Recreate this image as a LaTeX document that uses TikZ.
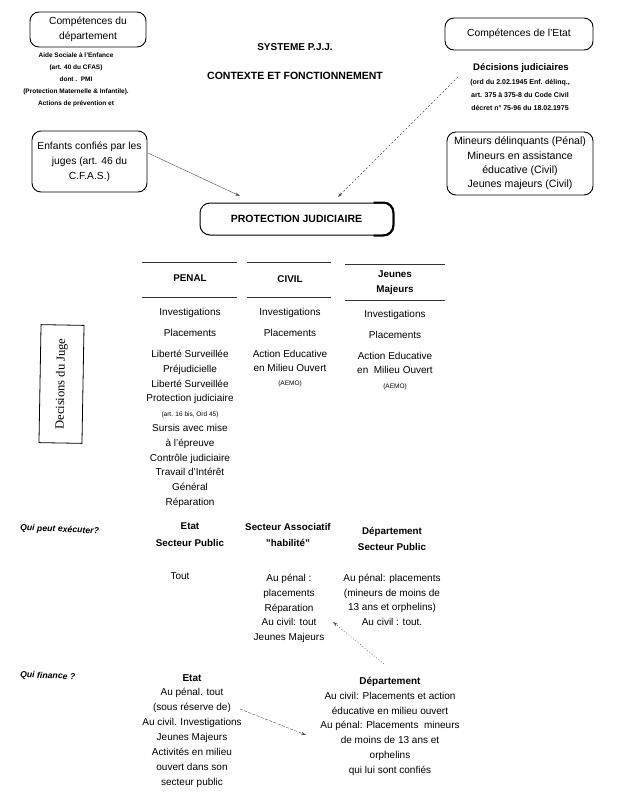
\documentclass[tikz,border=0pt]{standalone}
\usepackage{fontspec}
\setmainfont{Liberation Sans}
\newfontfamily\jugefont{Liberation Serif}
\usetikzlibrary{arrows.meta}
\begin{document}
\begin{tikzpicture}[x=1pt,y=-1pt,
  rbox/.style={draw, rounded corners=9pt, line width=0.9pt, align=center, inner sep=0pt},
  txt/.style={align=center, inner sep=0pt, anchor=north},
  big/.style={font=\fontsize{10.3}{14.5}\selectfont},
  small/.style={font=\bfseries\fontsize{6.5}{12}\selectfont},
  col/.style={txt, font=\fontsize{10}{14.8}\selectfont},
  head/.style={txt, font=\bfseries\fontsize{9.8}{16}\selectfont},
  hline/.style={line width=0.6pt, black!80},
  conn/.style={line width=0.4pt, black!70, -{Stealth[length=5pt,width=3pt]}},
  dconn/.style={conn, dash pattern=on 2pt off 2pt},
  qui/.style={anchor=west, inner sep=0pt, font=\bfseries\itshape\fontsize{8.7}{10}\selectfont, rotate=-2.5}
]
\useasboundingbox (0,0) rectangle (620,796);

% ---- top left
\node[rbox, big, minimum width=116pt, minimum height=35pt] (box1) at (88,29.5) {Compétences du\\département};
\node[txt, small] (aide) at (76,53) {Aide Sociale à l'Enfance\\(art. 40 du CFAS)\\dont .\ \ PMI\\(Protection Maternelle \& Infantile).\\Actions de prévention et};
\node[rbox, big, minimum width=115pt, minimum height=61pt, font=\fontsize{10.3}{15}\selectfont] (box2) at (89.5,161.5) {Enfants confiés par les\\juges (art. 46 du\\C.F.A.S.)};

% ---- title
\node[txt, font=\bfseries\fontsize{10}{12}\selectfont] (t1) at (295,43) {SYSTEME P.J.J.};
\node[txt, font=\bfseries\fontsize{10.5}{12}\selectfont] (t2) at (295,72) {CONTEXTE ET FONCTIONNEMENT};

% ---- top right
\node[rbox, big, minimum width=148pt, minimum height=32pt] (box3) at (519,34) {Compétences de l'Etat};
\node[txt, font=\bfseries\fontsize{9.6}{12}\selectfont] (dec) at (521,63) {Décisions judiciaires};
\node[txt, small, font=\bfseries\fontsize{7}{13}\selectfont] (ord) at (520,79) {(ord du 2.02.1945 Enf. délinq.,\\art. 375 à 375-8 du Code Civil\\décret n° 75-96 du 18.02.1975};
\node[rbox, big, minimum width=146pt, minimum height=63pt, font=\fontsize{10.6}{14.3}\selectfont] (box4) at (520,163.5) {Mineurs délinquants (Pénal)\\Mineurs en assistance\\éducative (Civil)\\Jeunes majeurs (Civil)};

% ---- protection judiciaire
\node[draw, rounded corners=10pt, line width=1pt, minimum width=193pt, minimum height=32pt, inner sep=0pt, font=\bfseries\fontsize{10.5}{12}\selectfont] (pj) at (296.5,219) {PROTECTION JUDICIAIRE};
\draw[line width=2pt, rounded corners=10pt] ([xshift=-20pt]pj.north east) -- (pj.north east) -- (pj.south east) -- ([xshift=-20pt]pj.south east);

\coordinate (a1s) at (148,153);
\coordinate (a1e) at (240,196);
\draw[conn] (a1s) -- (a1e);
\coordinate (a2s) at (458,77);
\coordinate (a2e) at (338,197);
\draw[dconn] (a2s) -- (a2e);

% ---- column headers
\coordinate (l1a) at (142,262); \coordinate (l1b) at (237,262);
\coordinate (l2a) at (247,262); \coordinate (l2b) at (331,262);
\coordinate (l3a) at (345,264); \coordinate (l3b) at (445,264);
\coordinate (m1a) at (142,297); \coordinate (m1b) at (237,297);
\coordinate (m2a) at (247,297); \coordinate (m2b) at (331,297);
\coordinate (m3a) at (345,300); \coordinate (m3b) at (445,300);
\draw[hline] (l1a) -- (l1b); \draw[hline] (l2a) -- (l2b); \draw[hline] (l3a) -- (l3b);
\draw[hline] (m1a) -- (m1b); \draw[hline] (m2a) -- (m2b); \draw[hline] (m3a) -- (m3b);
\node[head] (hp) at (190,275) {PENAL};
\node[head] (hc) at (290,275) {CIVIL};
\node[head, font=\bfseries\fontsize{9.8}{15}\selectfont] (hj) at (395,271) {Jeunes\\Majeurs};

% ---- columns
\node[col] (c1) at (190,308) {Investigations\\[6.2pt]Placements\\[6.2pt]Liberté Surveillée\\Préjudicielle\\Liberté Surveillée\\Protection judiciaire\\{\fontsize{6.5}{14.8}\selectfont (art. 16 bis, Ord 45)}\\Sursis avec mise\\à l'épreuve\\Contrôle judiciaire\\Travail d'Intérêt\\Général\\Réparation};
\node[col, font=\fontsize{10}{14.3}\selectfont] (c2) at (290,308) {Investigations\\[6.5pt]Placements\\[6.5pt]Action Educative\\en Milieu Ouvert\\{\fontsize{6.5}{14.3}\selectfont (AEMO)}};
\node[col, font=\fontsize{10}{14.5}\selectfont] (c3) at (395,310) {Investigations\\[6.5pt]Placements\\[6.5pt]Action Educative\\en\ \ Milieu Ouvert\\{\fontsize{6.5}{14.5}\selectfont (AEMO)}};

% ---- decisions du juge
\node[draw, line width=0.8pt, minimum width=118pt, minimum height=43pt, inner sep=0pt, rotate=89, font=\jugefont\fontsize{12.5}{14}\selectfont] (juge) at (61.5,384) {Decisions du Juge};

% ---- qui peut executer
\node[qui] (q1) at (20,528) {Qui peut exécuter?};
\node[head, font=\bfseries\fontsize{9.8}{16.5}\selectfont] (e1) at (190,523) {Etat\\Secteur Public};
\node[head, font=\bfseries\fontsize{9.8}{16.5}\selectfont] (e2) at (288,523) {Secteur Associatif\\"habilité"};
\node[head, font=\bfseries\fontsize{9.8}{16.5}\selectfont] (e3) at (392,527) {Département\\Secteur Public};
\node[col] (r1) at (180,572) {Tout};
\node[col, font=\fontsize{10}{14.8}\selectfont] (r2) at (289,574) {Au pénal :\\placements\\Réparation\\Au civil: tout\\Jeunes Majeurs};
\node[col, font=\fontsize{10}{14.7}\selectfont] (r3) at (392,574) {Au pénal: placements\\(mineurs de moins de\\13 ans et orphelins)\\Au civil : tout.};

% ---- qui finance
\node[qui] (q2) at (20,675) {Qui finance ?};
\node[col, font=\fontsize{10}{14.9}\selectfont] (f1) at (192,674) {\textbf{Etat}\\Au pénal. tout\\(sous réserve de)\\Au civil. Investigations\\Jeunes Majeurs\\Activités en milieu\\ouvert dans son\\secteur public};
\node[col, font=\fontsize{10}{14.8}\selectfont] (f2) at (390,677) {\textbf{Département}\\Au civil: Placements et action\\éducative en milieu ouvert\\Au pénal: Placements\ \ mineurs\\de moins de 13 ans et\\orphelins\\qui lui sont confiés};

\coordinate (a3s) at (240,709);
\coordinate (a3e) at (306,735);
\draw[dconn, dash pattern=on 3pt off 1.5pt] (a3s) -- (a3e);
\coordinate (a4s) at (384,664);
\coordinate (a4e) at (333,622);
\draw[dconn, dash pattern=on 1pt off 2pt] (a4s) -- (a4e);
\end{tikzpicture}
\end{document}
